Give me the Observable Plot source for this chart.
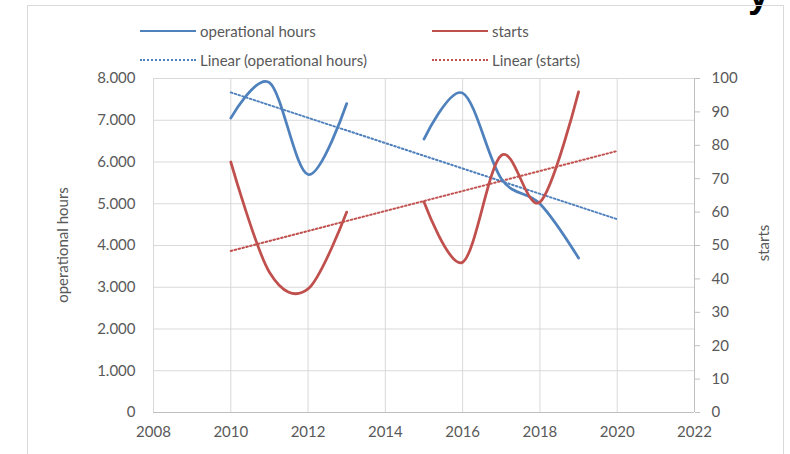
<!DOCTYPE html>
<html>
<head>
<meta charset="utf-8">
<script src="https://cdn.jsdelivr.net/npm/d3@7"></script>
<script src="https://cdn.jsdelivr.net/npm/@observablehq/plot@0.6"></script>
<style>
  body { margin: 0; background: #fff; font-family: Lato, "Liberation Sans", sans-serif; }
  #wrap { position: relative; width: 790px; height: 454px; overflow: hidden; background: #fff; }
  #frame { position: absolute; left: 27px; top: 5px; width: 755px; height: 500px; border: 1px solid #d9d9d9; }
  #legend { position: absolute; left: 0; top: 0; width: 790px; height: 66px; color: #595959; font-size: 15px; }
  .item { position: absolute; display: flex; align-items: center; white-space: nowrap; }
  .sw { width: 56px; height: 0; margin-right: 4px; }
  .solid { border-top: 2.5px solid; }
  .dotted { border-top: 2px dotted; }
  #chart { position: absolute; left: 0; top: 66px; }
  .ytitle { position: absolute; color: #595959; font-size: 15px; white-space: nowrap; transform: translate(-50%, -50%) rotate(-90deg); }
  #heading { position: absolute; left: 748px; top: -27px; font: bold 38px "Liberation Sans", sans-serif; color: #000; }
</style>
</head>
<body>
<div id="wrap">
  <div id="heading">y</div>
  <div id="frame"></div>
  <div id="legend"></div>
  <div id="chart"></div>
  <div class="ytitle" style="left:62px; top:245px;">operational hours</div>
  <div class="ytitle" style="left:763px; top:243px;">starts</div>
</div>
<script>
// Yearly figures; 2014 has no reading, so both lines break there.
const years = [2010, 2011, 2012, 2013, 2014, 2015, 2016, 2017, 2018, 2019];
const hours = [7050, 7900, 5700, 7400, null, 6550, 7650, 5600, 5000, 3700];
const starts = [75, 42, 37, 60, null, 63, 45, 77, 63, 96];

const xTicks = [2008, 2010, 2012, 2014, 2016, 2018, 2020, 2022];
const hoursTicks = [0, 1000, 2000, 3000, 4000, 5000, 6000, 7000, 8000];
const startsTicks = [0, 10, 20, 30, 40, 50, 60, 70, 80, 90, 100];
const trendYears = [2010, 2020]; // fitted lines run one year past the data

const blue = "#4f81bd";
const red = "#c0504d";
const grey = "#595959";

// starts share the plot with hours: 100 starts = 8.000 hours
const hoursMax = 8000, startsMax = 100;
const toHours = s => s == null ? null : s * hoursMax / startsMax;

const rows = years.map((year, i) => ({year, hours: hours[i], starts: toHours(starts[i])}));

// least-squares straight line through the non-empty points
function linearFit(xs, ys) {
  const pts = xs.map((x, i) => [x, ys[i]]).filter(d => d[1] != null);
  const mx = d3.mean(pts, d => d[0]), my = d3.mean(pts, d => d[1]);
  const b = d3.sum(pts, d => (d[0] - mx) * (d[1] - my)) / d3.sum(pts, d => (d[0] - mx) ** 2);
  return x => my + b * (x - mx);
}
const fitHours = linearFit(years, hours);
const fitStarts = linearFit(years, starts);
const trendHours = trendYears.map(x => ({year: x, v: fitHours(x)}));
const trendStarts = trendYears.map(x => ({year: x, v: toHours(fitStarts(x))}));

const fmtThousands = d => d3.format(",")(d).replace(/,/g, ".");

const chart = Plot.plot({
  width: 790,
  height: 388,
  marginLeft: 153,
  marginRight: 96,
  marginTop: 12,
  marginBottom: 42,
  style: {fontFamily: "Lato, sans-serif", fontSize: "15px", color: grey, background: "transparent"},
  x: {domain: [2008, 2022]},
  y: {domain: [0, hoursMax]},
  marks: [
    Plot.gridY(hoursTicks.slice(1), {stroke: "#d9d9d9", strokeOpacity: 1}),
    Plot.gridX(xTicks.slice(0, -1), {stroke: "#d9d9d9", strokeOpacity: 1}),
    Plot.ruleY([0], {stroke: "#bfbfbf"}),
    Plot.ruleX([2022], {stroke: "#bfbfbf"}),
    Plot.axisX({ticks: xTicks, tickFormat: d => String(d), tickSize: 0, tickPadding: 14, label: null, fill: grey}),
    Plot.axisY({ticks: hoursTicks, tickFormat: fmtThousands, tickSize: 0, tickPadding: 18, label: null, fill: grey}),
    Plot.axisY({
      anchor: "right",
      ticks: startsTicks.map(toHours),
      tickFormat: d => String(Math.round(d * startsMax / hoursMax)),
      tickSize: 5, tickPadding: 12, label: null, fill: grey, stroke: "#bfbfbf"
    }),
    Plot.line(trendHours, {x: "year", y: "v", stroke: blue, strokeWidth: 2, strokeDasharray: "1.6,2.4"}),
    Plot.line(trendStarts, {x: "year", y: "v", stroke: red, strokeWidth: 2, strokeDasharray: "1.6,2.4"}),
    Plot.line(rows, {x: "year", y: "hours", stroke: blue, strokeWidth: 2.75, curve: "cardinal"}),
    Plot.line(rows, {x: "year", y: "starts", stroke: red, strokeWidth: 2.75, curve: "cardinal"})
  ]
});
document.getElementById("chart").append(chart);

// legend: two rows, two columns
const legendItems = [
  {label: "operational hours", color: blue, style: "solid", left: 140, top: 31},
  {label: "starts", color: red, style: "solid", left: 432, top: 31},
  {label: "Linear (operational hours)", color: blue, style: "dotted", left: 140, top: 60},
  {label: "Linear (starts)", color: red, style: "dotted", left: 432, top: 60}
];
const legend = document.getElementById("legend");
for (const it of legendItems) {
  const el = document.createElement("div");
  el.className = "item";
  el.style.left = it.left + "px";
  el.style.top = (it.top - 10) + "px";
  el.style.height = "20px";
  const sw = document.createElement("span");
  sw.className = "sw " + it.style;
  sw.style.borderColor = it.color;
  const tx = document.createElement("span");
  tx.textContent = it.label;
  el.append(sw, tx);
  legend.append(el);
}
</script>
</body>
</html>
